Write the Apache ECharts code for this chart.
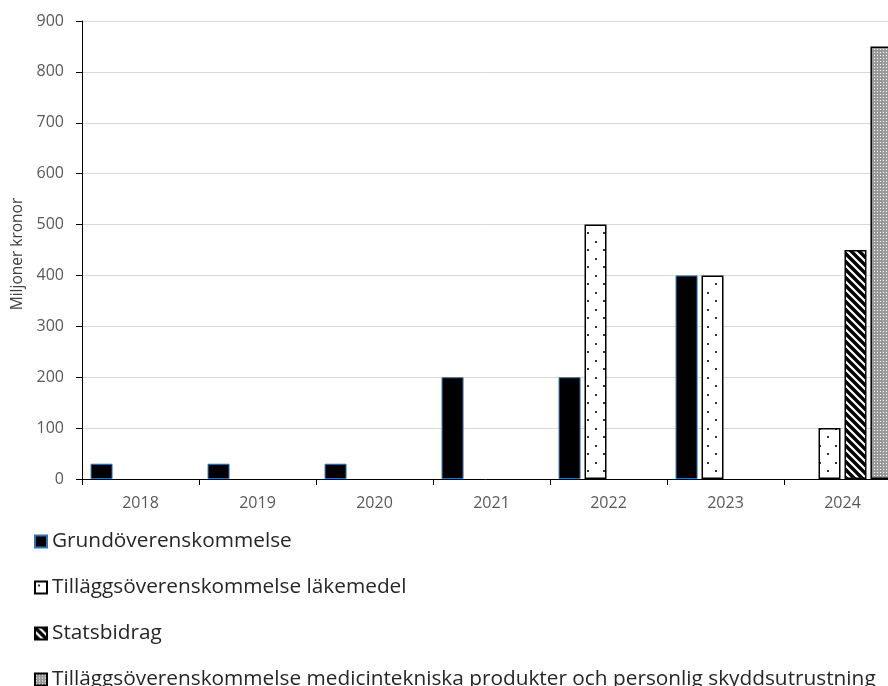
<!DOCTYPE html>
<html>
<head>
<meta charset="utf-8">
<script src="https://cdn.jsdelivr.net/npm/echarts@6/dist/echarts.min.js"></script>
<style>
  html, body { margin: 0; padding: 0; background: #fff; }
  #chart { width: 888px; height: 686px; }
</style>
</head>
<body>
<div id="chart"></div>
<script>
// Years on the category axis
const years = ['2018', '2019', '2020', '2021', '2022', '2023', '2024'];

// Payments per agreement type, million SEK (null = no payment that year)
const grund = [30, 30, 30, 200, 200, 400, null];
const lakemedel = [null, null, null, null, 500, 400, 100];
const statsbidrag = [null, null, null, null, null, null, 450];
const medtek = [null, null, null, null, null, null, 850];

const seriesNames = [
  'Grundöverenskommelse',
  'Tilläggsöverenskommelse läkemedel',
  'Statsbidrag',
  'Tilläggsöverenskommelse medicintekniska produkter och personlig skyddsutrustning'
];

const yTicks = { min: 0, max: 900, step: 100 };

// Fill patterns drawn on small tiles
function tile(w, h, draw) {
  const c = document.createElement('canvas');
  c.width = w; c.height = h;
  const ctx = c.getContext('2d');
  ctx.fillStyle = '#ffffff';
  ctx.fillRect(0, 0, w, h);
  draw(ctx);
  return { image: c, repeat: 'repeat' };
}

// Sparse staggered dots
const sparseDots = tile(16, 17, ctx => {
  ctx.fillStyle = '#333333';
  ctx.fillRect(3, 3, 2, 2);
  ctx.fillRect(11, 11, 2, 2);
});

// Diagonal stripes running top-left to bottom-right
const stripes = tile(8, 8, ctx => {
  ctx.strokeStyle = '#000000';
  ctx.lineWidth = 3.4;
  ctx.beginPath();
  for (let k = -2; k <= 2; k++) {
    ctx.moveTo(k * 8 - 2, -2);
    ctx.lineTo(k * 8 + 10, 10);
  }
  ctx.stroke();
});

// Fine grey dot screen
const fineDots = tile(3, 3, ctx => {
  ctx.fillStyle = '#9a9a9a';
  ctx.fillRect(0, 0, 3, 3);
  ctx.fillStyle = '#ffffff';
  ctx.fillRect(1, 1, 1, 1);
});

const styles = [
  { color: '#000000', borderColor: '#2f75b5', borderWidth: 1 },
  { color: sparseDots, borderColor: '#000000', borderWidth: 1.5 },
  { color: stripes, borderColor: '#000000', borderWidth: 1.5 },
  { color: fineDots, borderColor: '#000000', borderWidth: 1.5 }
];

const values = [grund, lakemedel, statsbidrag, medtek];

const chart = echarts.init(document.getElementById('chart'), null, { renderer: 'canvas' });

chart.setOption({
  animation: false,
  backgroundColor: '#ffffff',
  textStyle: { fontFamily: 'Open Sans' },
  // plot area continues past the right edge of the canvas
  grid: {
    left: 82, top: 21, width: 819, height: 458,
    containLabel: false,
    outerBoundsMode: 'none'
  },
  legend: {
    orient: 'vertical',
    left: 34,
    top: 531,
    height: 400,
    padding: 0,
    itemGap: 25,
    itemWidth: 12,
    itemHeight: 12,
    icon: 'rect',
    textStyle: { fontSize: 20.8, color: '#262626', fontFamily: 'Open Sans' },
    data: seriesNames
  },
  xAxis: {
    type: 'category',
    data: years,
    axisLine: { lineStyle: { color: '#000000', width: 1 } },
    axisTick: { show: true, length: 6, alignWithLabel: false, lineStyle: { color: '#000000' } },
    axisLabel: { color: '#595959', fontSize: 16, margin: 16 }
  },
  yAxis: {
    type: 'value',
    min: yTicks.min,
    max: yTicks.max,
    interval: yTicks.step,
    name: 'Miljoner kronor',
    nameLocation: 'middle',
    nameGap: 56,
    nameTextStyle: { color: '#404040', fontSize: 15.5, padding: [0, 8, 0, 0] },
    axisLine: { show: true, lineStyle: { color: '#000000', width: 1 } },
    axisTick: { show: true, length: 6, lineStyle: { color: '#000000' } },
    axisLabel: { color: '#595959', fontSize: 16, margin: 18 },
    splitLine: { lineStyle: { color: '#d9d9d9', width: 1 } }
  },
  series: seriesNames.map((name, i) => ({
    name,
    type: 'bar',
    data: values[i],
    barWidth: 22,
    barGap: '18%',
    itemStyle: styles[i]
  }))
});
</script>
</body>
</html>
